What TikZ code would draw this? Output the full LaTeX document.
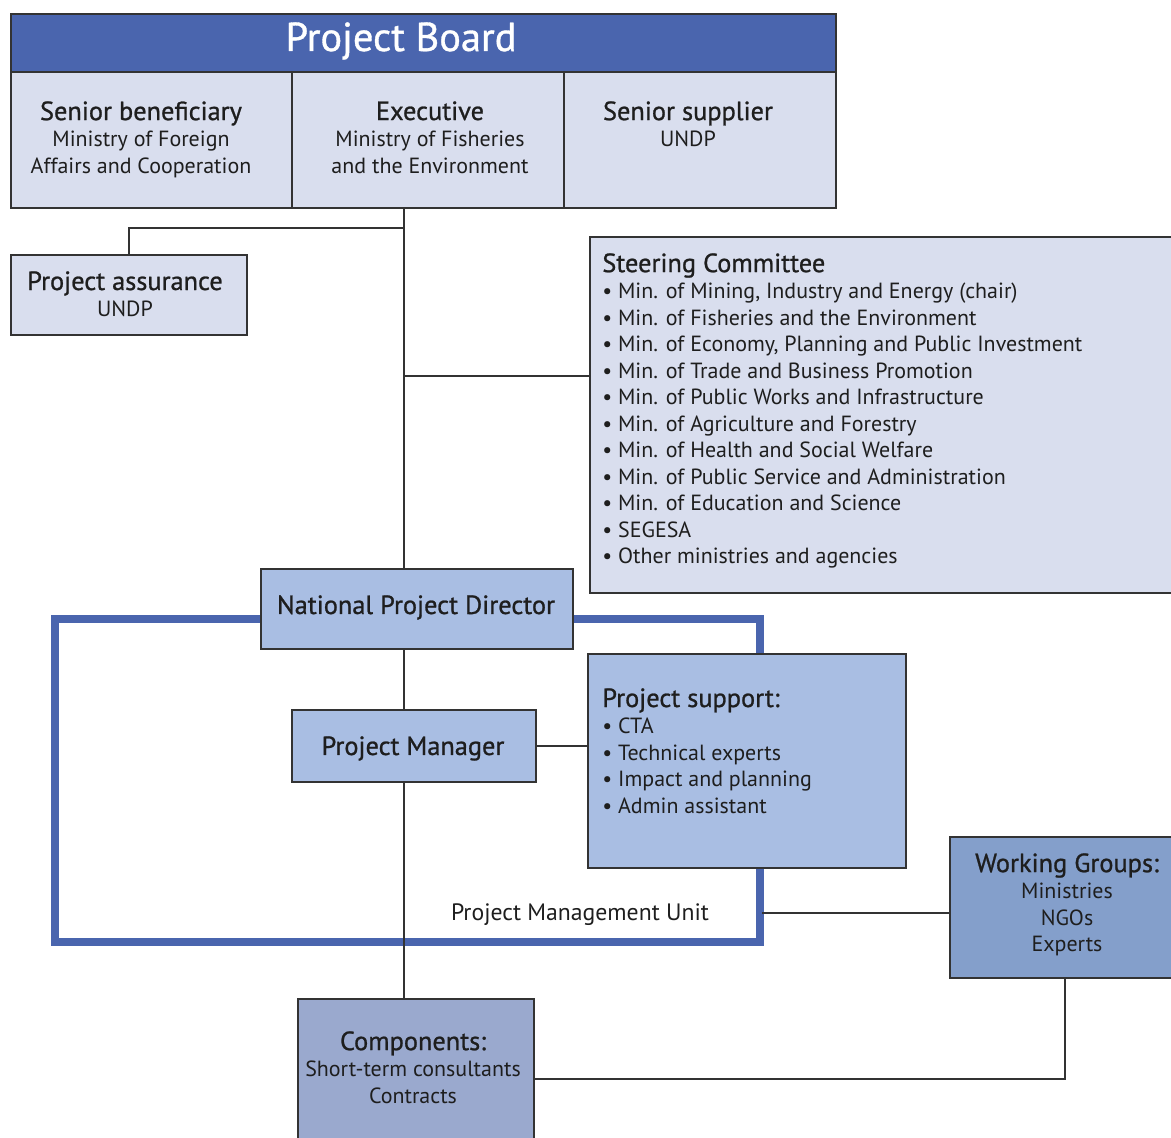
\documentclass[tikz,border=0pt]{standalone}
\usepackage{fontspec}
\setmainfont{PT Sans}
\newfontfamily\headfamily{PT Sans}[FakeBold=0.9]
\usetikzlibrary{positioning}
\definecolor{boardblue}{HTML}{4A65AE}
\definecolor{palebox}{HTML}{D9DEEE}
\definecolor{midbox}{HTML}{A9BEE3}
\definecolor{compbox}{HTML}{9AA9CE}
\definecolor{wgbox}{HTML}{849FCB}
\definecolor{inkgray}{HTML}{333333}
\definecolor{textgray}{HTML}{1E1E1E}
\newcommand{\headfont}{\headfamily\fontsize{15}{15.1}\selectfont}
\newcommand{\bodyfont}{\fontsize{12.5}{15.1}\selectfont}
\begin{document}
\begin{tikzpicture}[x=0.02cm,y=-0.02cm,
  box/.style={draw=inkgray, line width=1.1pt, anchor=north west, inner sep=0pt},
  link/.style={draw=inkgray, line width=1.1pt},
  label/.style={text=textgray, inner sep=0pt, align=center, font=\bodyfont}]
\useasboundingbox (0,0) rectangle (1171,1138);
% project board
\node[box, fill=boardblue, minimum width=16.5cm, minimum height=1.16cm] (board) at (10,13) {};
\node[box, fill=palebox, minimum width=5.62cm, minimum height=2.72cm] (benef) at (10,71) {};
\node[box, fill=palebox, minimum width=5.44cm, minimum height=2.72cm] (exec) at (291,71) {};
\node[box, fill=palebox, minimum width=5.44cm, minimum height=2.72cm] (supplier) at (563,71) {};
\node[text=white, inner sep=0pt, anchor=base, font=\headfamily\fontsize{23}{26}\selectfont] (boardtitle) at (401,51) {Project Board};
\node[label, anchor=north] (beneftext) at (141,101) {{\headfont Senior beneficiary}\\Ministry of Foreign\\Affairs and Cooperation};
\node[label, anchor=north] (exectext) at (430,101) {{\headfont Executive}\\Ministry of Fisheries\\and the Environment};
\node[label, anchor=north] (suppliertext) at (688,101) {{\headfont Senior supplier}\\UNDP};
% assurance and steering committee
\node[box, fill=palebox, minimum width=4.72cm, minimum height=1.6cm] (assure) at (10,254) {};
\node[label, anchor=north] (assuretext) at (125,271) {{\headfont Project assurance}\\UNDP};
\node[box, fill=palebox, minimum width=11.9cm, minimum height=7.12cm] (steer) at (589,236) {};
\node[label, anchor=north west, align=left] (steertext) at (602,253) {{\headfont Steering Committee}\\
  • Min. of Mining, Industry and Energy (chair)\\
  • Min. of Fisheries and the Environment\\
  • Min. of Economy, Planning and Public Investment\\
  • Min. of Trade and Business Promotion\\
  • Min. of Public Works and Infrastructure\\
  • Min. of Agriculture and Forestry\\
  • Min. of Health and Social Welfare\\
  • Min. of Public Service and Administration\\
  • Min. of Education and Science\\
  • SEGESA\\
  • Other ministries and agencies};
% project management unit
\draw[boardblue, line width=4pt] (55,619) rectangle (760,942);
\node[box, fill=midbox, minimum width=6.24cm, minimum height=1.6cm] (npd) at (260,568) {};
\node[label, anchor=base, font=\headfont] (npdtext) at (416,614) {National Project Director};
\node[box, fill=midbox, minimum width=4.88cm, minimum height=1.44cm] (pm) at (291,709) {};
\node[label, anchor=base, font=\headfont] (pmtext) at (413,755) {Project Manager};
\node[box, fill=midbox, minimum width=6.36cm, minimum height=4.28cm] (support) at (587,653) {};
\node[label, anchor=north west, align=left] (supporttext) at (602,688) {{\headfont Project support:}\\
  • CTA\\
  • Technical experts\\
  • Impact and planning\\
  • Admin assistant};
\node[label, anchor=base, font=\fontsize{13.5}{15}\selectfont] (pmulabel) at (580,920) {Project Management Unit};
% working groups and components
\node[box, fill=wgbox, minimum width=4.6cm, minimum height=2.82cm] (wg) at (949,836) {};
\node[label, anchor=north] (wgtext) at (1067,853) {{\headfont Working Groups:}\\Ministries\\NGOs\\Experts};
\node[box, fill=compbox, minimum width=4.72cm, minimum height=3.2cm] (comp) at (297,998) {};
\node[label, anchor=north] (comptext) at (413,1031) {{\headfont Components:}\\Short-term consultants\\Contracts};
% connectors
\coordinate (spine) at (404,228);
\coordinate (sclink) at (404,376);
\coordinate (pmuedge) at (762,913);
\draw[link] (spine |- exec.south) -- (spine |- npd.north);
\draw[link] (spine) -| (assure.north);
\draw[link] (sclink) -- (sclink -| steer.west);
\draw[link] (spine |- npd.south) -- (spine |- pm.north);
\draw[link] (pm.east) -- (pm.east -| support.west);
\draw[link] (spine |- pm.south) -- (spine |- comp.north);
\draw[link] (pmuedge) -- (pmuedge -| wg.west);
\draw[link] (wg.south) |- (comp.east);
\end{tikzpicture}
\end{document}
